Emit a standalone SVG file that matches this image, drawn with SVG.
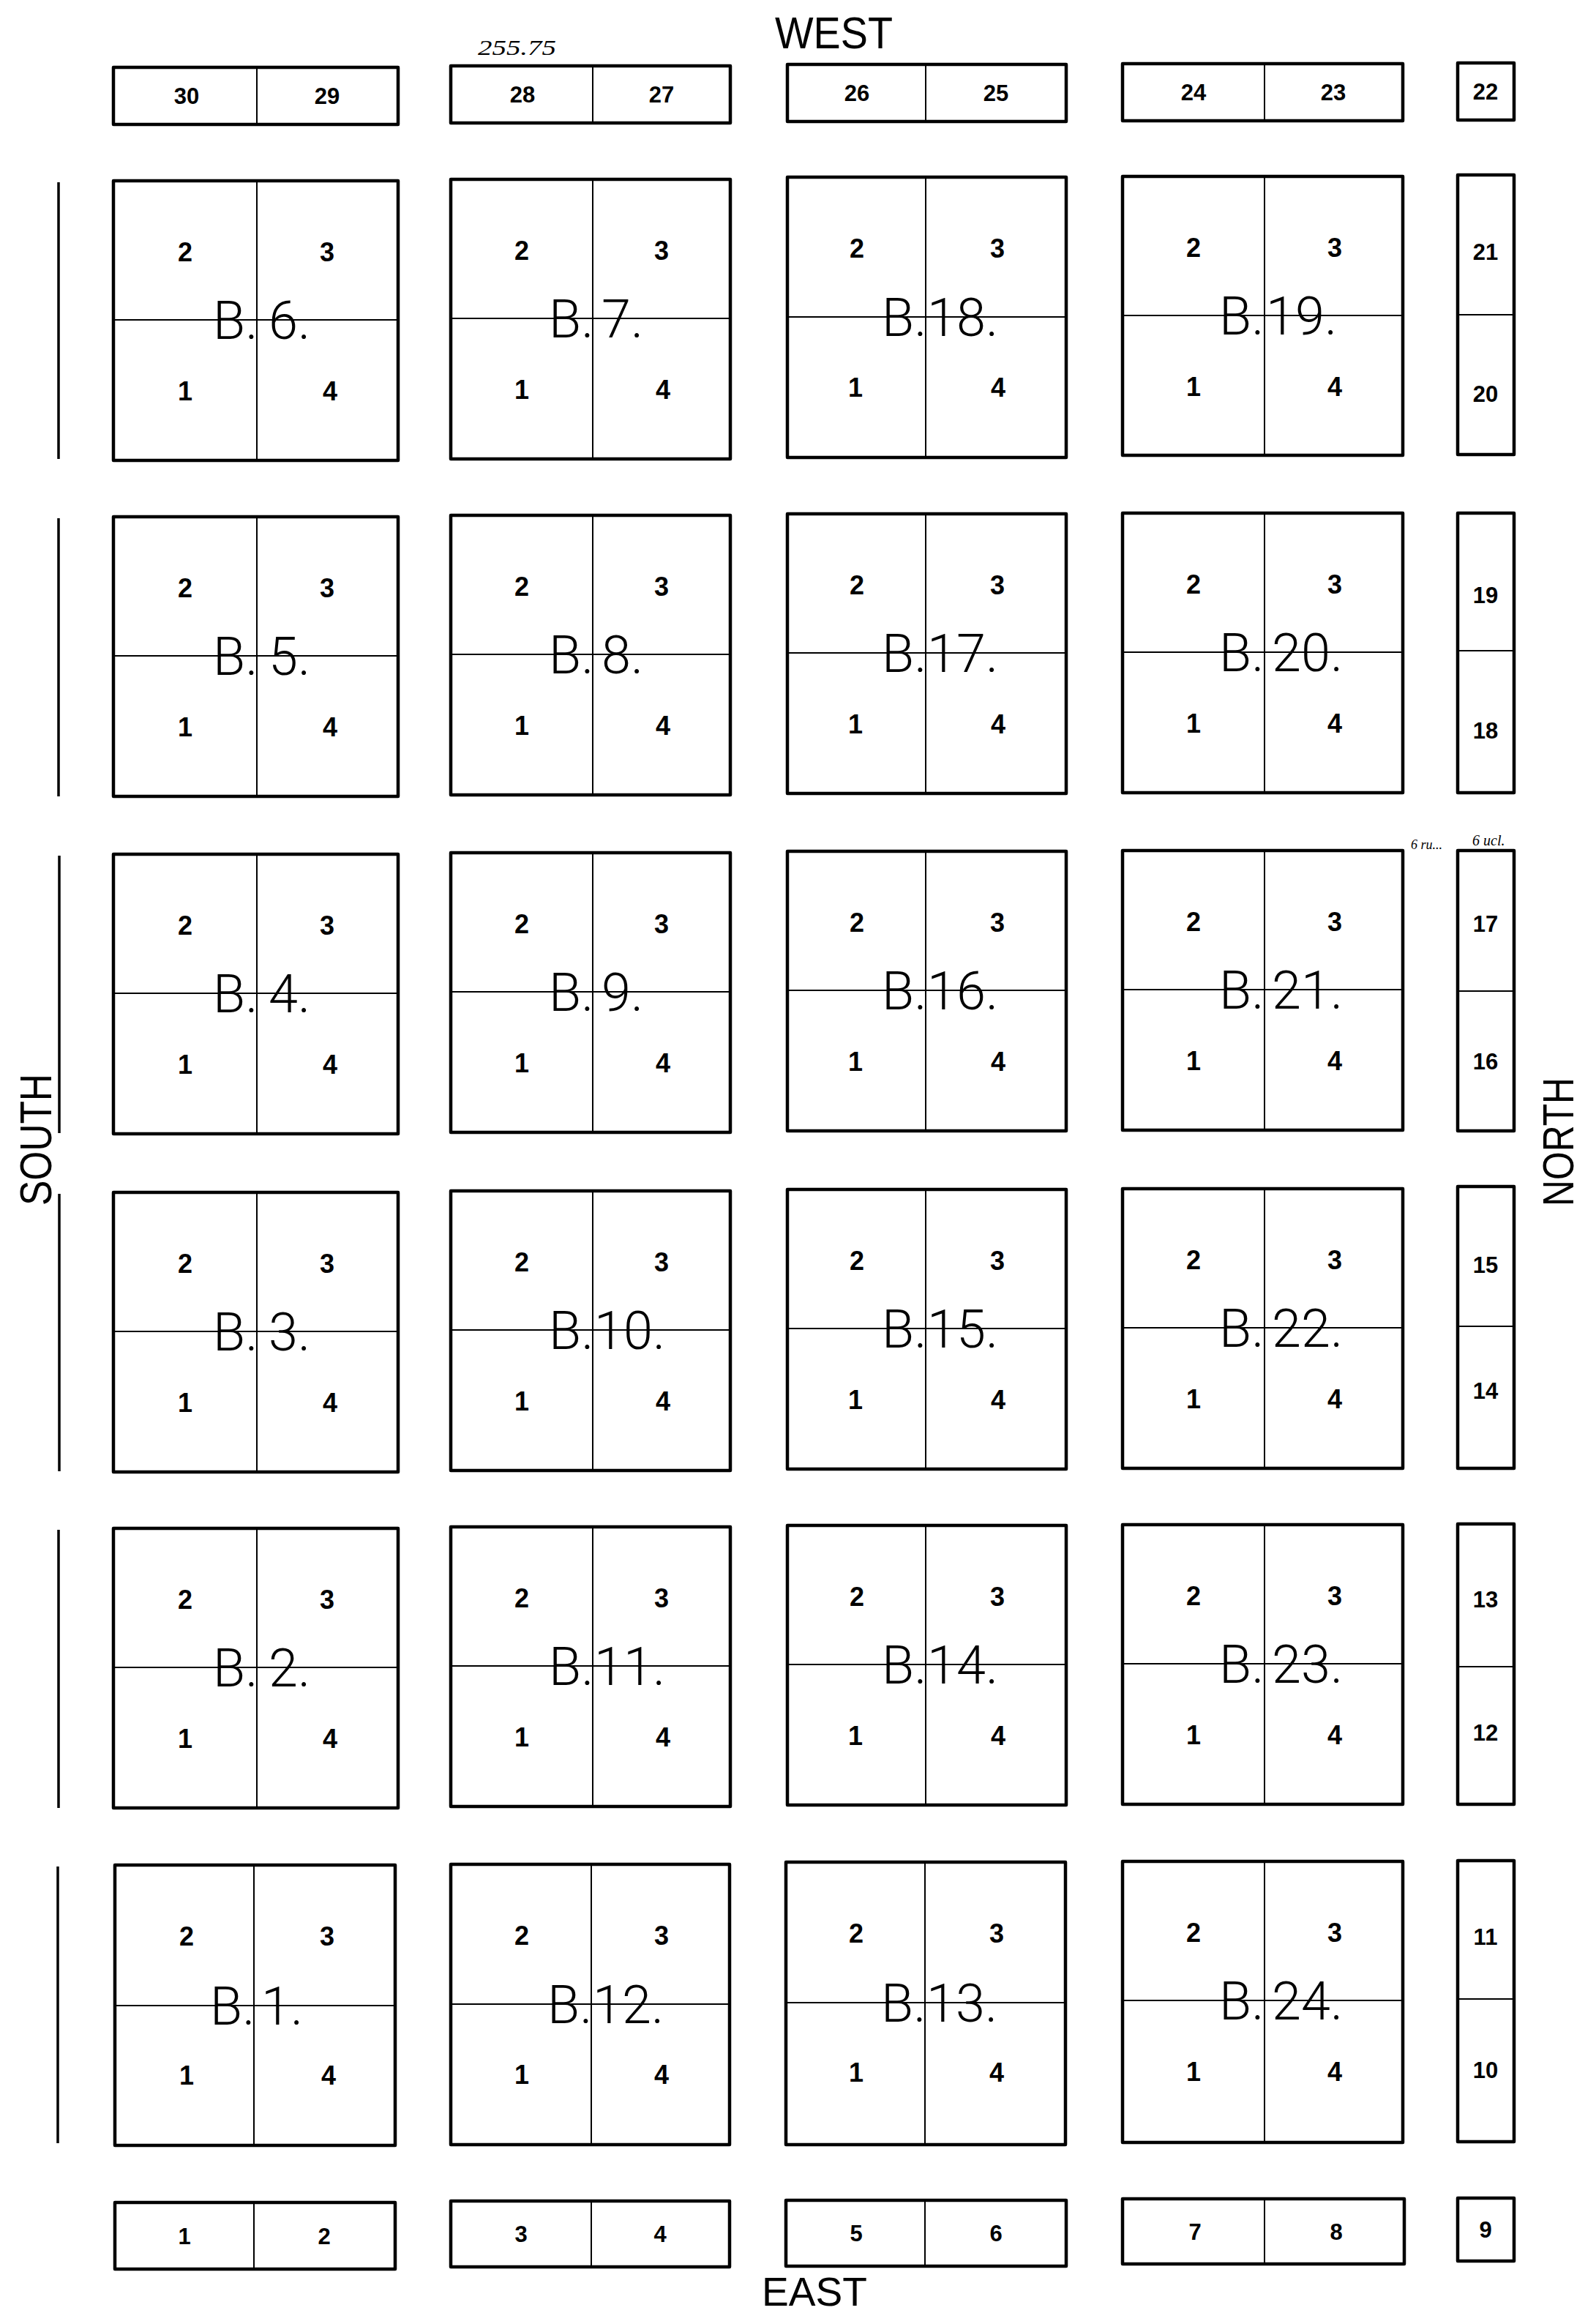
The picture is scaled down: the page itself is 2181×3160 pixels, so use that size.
<svg xmlns="http://www.w3.org/2000/svg" width="2181" height="3160" viewBox="0 0 2181 3160">
<style>
rect.o{fill:none;stroke:#000;stroke-width:4.5;stroke-linejoin:round}
line.in{stroke:#000;stroke-width:2}
line.side{stroke:#000;stroke-width:3.5}
text{font-family:"Liberation Sans",Arial,sans-serif;fill:#000}
.lot{font-size:36px;font-weight:bold;text-anchor:middle}
.sl{font-size:31px;font-weight:bold;text-anchor:middle}
.bl{font-family:Roboto,"Liberation Sans",sans-serif;font-weight:300;font-size:72px}
.dir{font-size:62px}
.hand{font-family:"Liberation Serif",serif;font-style:italic}
</style>
<rect width="2181" height="3160" fill="#fff"/>

<g id="labels">
<text class="dir" x="1041" y="3150" textLength="144" lengthAdjust="spacingAndGlyphs" style="font-size:56px">EAST</text>
<text class="dir" x="1059" y="66" textLength="161" lengthAdjust="spacingAndGlyphs">WEST</text>
<text class="dir" transform="translate(70,1557) rotate(-90)" text-anchor="middle" textLength="180" lengthAdjust="spacingAndGlyphs">SOUTH</text>
<text class="dir" transform="translate(2150,1560) rotate(-90)" text-anchor="middle" textLength="176" lengthAdjust="spacingAndGlyphs" style="font-size:60px">NORTH</text>
<text class="hand" x="653" y="75" font-size="30" textLength="107" lengthAdjust="spacingAndGlyphs">255.75</text>
<text class="hand" x="1928" y="1160" font-size="18">6 ru...</text>
<text class="hand" x="2012" y="1155" font-size="20">6 ucl.</text>
</g>

<g id="side-lines">
<line class="side" x1="80" y1="249" x2="80" y2="627"/>
<line class="side" x1="80" y1="708" x2="80" y2="1088"/>
<line class="side" x1="81" y1="1169" x2="81" y2="1548"/>
<line class="side" x1="81" y1="1631" x2="81" y2="2010"/>
<line class="side" x1="80" y1="2090" x2="80" y2="2470"/>
<line class="side" x1="79" y1="2550" x2="79" y2="2928"/>
</g>

<!-- top strips -->
<g id="strip-top-1" transform="translate(155,92)">
<rect class="o" width="389" height="78"/><line class="in" x1="196" y1="0" x2="196" y2="78"/>
<text class="sl" x="100" y="50">30</text><text class="sl" x="292" y="50">29</text>
</g>
<g id="strip-top-2" transform="translate(616,90)">
<rect class="o" width="382" height="78"/><line class="in" x1="194" y1="0" x2="194" y2="78"/>
<text class="sl" x="98" y="50">28</text><text class="sl" x="288" y="50">27</text>
</g>
<g id="strip-top-3" transform="translate(1076,88)">
<rect class="o" width="381" height="78"/><line class="in" x1="189" y1="0" x2="189" y2="78"/>
<text class="sl" x="95" y="50">26</text><text class="sl" x="285" y="50">25</text>
</g>
<g id="strip-top-4" transform="translate(1534,87)">
<rect class="o" width="383" height="78"/><line class="in" x1="194" y1="0" x2="194" y2="78"/>
<text class="sl" x="97" y="50">24</text><text class="sl" x="288" y="50">23</text>
</g>
<g id="lot-22" transform="translate(1992,86)">
<rect class="o" width="77" height="78"/>
<text class="sl" x="38" y="50">22</text>
</g>

<!-- bottom strips -->
<g id="strip-bot-1" transform="translate(157,3009)">
<rect class="o" width="383" height="91"/><line class="in" x1="190" y1="0" x2="190" y2="91"/>
<text class="sl" x="95" y="57">1</text><text class="sl" x="286" y="57">2</text>
</g>
<g id="strip-bot-2" transform="translate(616,3007)">
<rect class="o" width="381" height="90"/><line class="in" x1="192" y1="0" x2="192" y2="90"/>
<text class="sl" x="96" y="56">3</text><text class="sl" x="286" y="56">4</text>
</g>
<g id="strip-bot-3" transform="translate(1074,3006)">
<rect class="o" width="383" height="90"/><line class="in" x1="190" y1="0" x2="190" y2="90"/>
<text class="sl" x="96" y="56">5</text><text class="sl" x="287" y="56">6</text>
</g>
<g id="strip-bot-4" transform="translate(1534,3004)">
<rect class="o" width="385" height="89"/><line class="in" x1="194" y1="0" x2="194" y2="89"/>
<text class="sl" x="99" y="56">7</text><text class="sl" x="292" y="56">8</text>
</g>
<g id="lot-9" transform="translate(1992,3003)">
<rect class="o" width="77" height="86"/>
<text class="sl" x="38" y="54">9</text>
</g>

<!-- right strips -->
<g id="lots-21-20" transform="translate(1992,239)">
<rect class="o" width="77" height="382"/><line class="in" x1="0" y1="191" x2="77" y2="191"/>
<text class="sl" x="38" y="116">21</text><text class="sl" x="38" y="310">20</text>
</g>
<g id="lots-19-18" transform="translate(1992,701)">
<rect class="o" width="77" height="382"/><line class="in" x1="0" y1="188" x2="77" y2="188"/>
<text class="sl" x="38" y="123">19</text><text class="sl" x="38" y="308">18</text>
</g>
<g id="lots-17-16" transform="translate(1992,1162)">
<rect class="o" width="77" height="383"/><line class="in" x1="0" y1="192" x2="77" y2="192"/>
<text class="sl" x="38" y="111">17</text><text class="sl" x="38" y="299">16</text>
</g>
<g id="lots-15-14" transform="translate(1992,1621)">
<rect class="o" width="77" height="385"/><line class="in" x1="0" y1="191" x2="77" y2="191"/>
<text class="sl" x="38" y="118">15</text><text class="sl" x="38" y="290">14</text>
</g>
<g id="lots-13-12" transform="translate(1992,2082)">
<rect class="o" width="77" height="383"/><line class="in" x1="0" y1="195" x2="77" y2="195"/>
<text class="sl" x="38" y="114">13</text><text class="sl" x="38" y="296">12</text>
</g>
<g id="lots-11-10" transform="translate(1992,2542)">
<rect class="o" width="77" height="384"/><line class="in" x1="0" y1="189" x2="77" y2="189"/>
<text class="sl" x="38" y="115">11</text><text class="sl" x="38" y="297">10</text>
</g>

<!-- column 1 blocks -->
<g id="b6" transform="translate(155,247)">
<rect class="o" width="389" height="382"/><line class="in" x1="196" y1="0" x2="196" y2="382"/><line class="in" x1="0" y1="190" x2="389" y2="190"/>
<text class="lot" x="98" y="110">2</text><text class="lot" x="292" y="110">3</text><text class="lot" x="98" y="300">1</text><text class="lot" x="296" y="300">4</text>
<text class="bl" y="216"><tspan x="136">B.</tspan> <tspan x="212">6.</tspan></text>
</g>
<g id="b5" transform="translate(155,706)">
<rect class="o" width="389" height="382"/><line class="in" x1="196" y1="0" x2="196" y2="382"/><line class="in" x1="0" y1="190" x2="389" y2="190"/>
<text class="lot" x="98" y="110">2</text><text class="lot" x="292" y="110">3</text><text class="lot" x="98" y="300">1</text><text class="lot" x="296" y="300">4</text>
<text class="bl" y="216"><tspan x="136">B.</tspan> <tspan x="212">5.</tspan></text>
</g>
<g id="b4" transform="translate(155,1167)">
<rect class="o" width="389" height="382"/><line class="in" x1="196" y1="0" x2="196" y2="382"/><line class="in" x1="0" y1="190" x2="389" y2="190"/>
<text class="lot" x="98" y="110">2</text><text class="lot" x="292" y="110">3</text><text class="lot" x="98" y="300">1</text><text class="lot" x="296" y="300">4</text>
<text class="bl" y="216"><tspan x="136">B.</tspan> <tspan x="212">4.</tspan></text>
</g>
<g id="b3" transform="translate(155,1629)">
<rect class="o" width="389" height="382"/><line class="in" x1="196" y1="0" x2="196" y2="382"/><line class="in" x1="0" y1="190" x2="389" y2="190"/>
<text class="lot" x="98" y="110">2</text><text class="lot" x="292" y="110">3</text><text class="lot" x="98" y="300">1</text><text class="lot" x="296" y="300">4</text>
<text class="bl" y="216"><tspan x="136">B.</tspan> <tspan x="212">3.</tspan></text>
</g>
<g id="b2" transform="translate(155,2088)">
<rect class="o" width="389" height="382"/><line class="in" x1="196" y1="0" x2="196" y2="382"/><line class="in" x1="0" y1="190" x2="389" y2="190"/>
<text class="lot" x="98" y="110">2</text><text class="lot" x="292" y="110">3</text><text class="lot" x="98" y="300">1</text><text class="lot" x="296" y="300">4</text>
<text class="bl" y="216"><tspan x="136">B.</tspan> <tspan x="212">2.</tspan></text>
</g>
<g id="b1" transform="translate(157,2548)">
<rect class="o" width="383" height="383"/><line class="in" x1="190" y1="0" x2="190" y2="383"/><line class="in" x1="0" y1="192" x2="383" y2="192"/>
<text class="lot" x="98" y="110">2</text><text class="lot" x="290" y="110">3</text><text class="lot" x="98" y="300">1</text><text class="lot" x="292" y="300">4</text>
<text class="bl" y="218"><tspan x="130">B.</tspan> <tspan x="200">1.</tspan></text>
</g>

<!-- column 2 blocks -->
<g id="b7" transform="translate(616,245)">
<rect class="o" width="382" height="382"/><line class="in" x1="194" y1="0" x2="194" y2="382"/><line class="in" x1="0" y1="190" x2="382" y2="190"/>
<text class="lot" x="97" y="110">2</text><text class="lot" x="288" y="110">3</text><text class="lot" x="97" y="300">1</text><text class="lot" x="290" y="300">4</text>
<text class="bl" y="216"><tspan x="134">B.</tspan> <tspan x="206">7.</tspan></text>
</g>
<g id="b8" transform="translate(616,704)">
<rect class="o" width="382" height="382"/><line class="in" x1="194" y1="0" x2="194" y2="382"/><line class="in" x1="0" y1="190" x2="382" y2="190"/>
<text class="lot" x="97" y="110">2</text><text class="lot" x="288" y="110">3</text><text class="lot" x="97" y="300">1</text><text class="lot" x="290" y="300">4</text>
<text class="bl" y="216"><tspan x="134">B.</tspan> <tspan x="206">8.</tspan></text>
</g>
<g id="b9" transform="translate(616,1165)">
<rect class="o" width="382" height="382"/><line class="in" x1="194" y1="0" x2="194" y2="382"/><line class="in" x1="0" y1="190" x2="382" y2="190"/>
<text class="lot" x="97" y="110">2</text><text class="lot" x="288" y="110">3</text><text class="lot" x="97" y="300">1</text><text class="lot" x="290" y="300">4</text>
<text class="bl" y="216"><tspan x="134">B.</tspan> <tspan x="206">9.</tspan></text>
</g>
<g id="b10" transform="translate(616,1627)">
<rect class="o" width="382" height="382"/><line class="in" x1="194" y1="0" x2="194" y2="382"/><line class="in" x1="0" y1="190" x2="382" y2="190"/>
<text class="lot" x="97" y="110">2</text><text class="lot" x="288" y="110">3</text><text class="lot" x="97" y="300">1</text><text class="lot" x="290" y="300">4</text>
<text class="bl" y="216"><tspan x="134">B.</tspan><tspan x="196">10.</tspan></text>
</g>
<g id="b11" transform="translate(616,2086)">
<rect class="o" width="382" height="382"/><line class="in" x1="194" y1="0" x2="194" y2="382"/><line class="in" x1="0" y1="190" x2="382" y2="190"/>
<text class="lot" x="97" y="110">2</text><text class="lot" x="288" y="110">3</text><text class="lot" x="97" y="300">1</text><text class="lot" x="290" y="300">4</text>
<text class="bl" y="216"><tspan x="134">B.</tspan><tspan x="196">11.</tspan></text>
</g>
<g id="b12" transform="translate(616,2547)">
<rect class="o" width="381" height="383"/><line class="in" x1="192" y1="0" x2="192" y2="383"/><line class="in" x1="0" y1="191" x2="381" y2="191"/>
<text class="lot" x="97" y="110">2</text><text class="lot" x="288" y="110">3</text><text class="lot" x="97" y="300">1</text><text class="lot" x="288" y="300">4</text>
<text class="bl" y="217"><tspan x="132">B.</tspan><tspan x="194">12.</tspan></text>
</g>

<!-- column 3 blocks -->
<g id="b18" transform="translate(1076,242)">
<rect class="o" width="381" height="383"/><line class="in" x1="189" y1="0" x2="189" y2="383"/><line class="in" x1="0" y1="191" x2="381" y2="191"/>
<text class="lot" x="95" y="110">2</text><text class="lot" x="287" y="110">3</text><text class="lot" x="93" y="300">1</text><text class="lot" x="288" y="300">4</text>
<text class="bl" y="217"><tspan x="129">B.</tspan><tspan x="191">18.</tspan></text>
</g>
<g id="b17" transform="translate(1076,702)">
<rect class="o" width="381" height="382"/><line class="in" x1="189" y1="0" x2="189" y2="382"/><line class="in" x1="0" y1="190" x2="381" y2="190"/>
<text class="lot" x="95" y="110">2</text><text class="lot" x="287" y="110">3</text><text class="lot" x="93" y="300">1</text><text class="lot" x="288" y="300">4</text>
<text class="bl" y="216"><tspan x="129">B.</tspan><tspan x="191">17.</tspan></text>
</g>
<g id="b16" transform="translate(1076,1163)">
<rect class="o" width="381" height="382"/><line class="in" x1="189" y1="0" x2="189" y2="382"/><line class="in" x1="0" y1="190" x2="381" y2="190"/>
<text class="lot" x="95" y="110">2</text><text class="lot" x="287" y="110">3</text><text class="lot" x="93" y="300">1</text><text class="lot" x="288" y="300">4</text>
<text class="bl" y="216"><tspan x="129">B.</tspan><tspan x="191">16.</tspan></text>
</g>
<g id="b15" transform="translate(1076,1625)">
<rect class="o" width="381" height="382"/><line class="in" x1="189" y1="0" x2="189" y2="382"/><line class="in" x1="0" y1="190" x2="381" y2="190"/>
<text class="lot" x="95" y="110">2</text><text class="lot" x="287" y="110">3</text><text class="lot" x="93" y="300">1</text><text class="lot" x="288" y="300">4</text>
<text class="bl" y="216"><tspan x="129">B.</tspan><tspan x="191">15.</tspan></text>
</g>
<g id="b14" transform="translate(1076,2084)">
<rect class="o" width="381" height="382"/><line class="in" x1="189" y1="0" x2="189" y2="382"/><line class="in" x1="0" y1="190" x2="381" y2="190"/>
<text class="lot" x="95" y="110">2</text><text class="lot" x="287" y="110">3</text><text class="lot" x="93" y="300">1</text><text class="lot" x="288" y="300">4</text>
<text class="bl" y="216"><tspan x="129">B.</tspan><tspan x="191">14.</tspan></text>
</g>
<g id="b13" transform="translate(1074,2544)">
<rect class="o" width="382" height="386"/><line class="in" x1="190" y1="0" x2="190" y2="386"/><line class="in" x1="0" y1="192" x2="382" y2="192"/>
<text class="lot" x="96" y="110">2</text><text class="lot" x="288" y="110">3</text><text class="lot" x="96" y="300">1</text><text class="lot" x="288" y="300">4</text>
<text class="bl" y="218"><tspan x="130">B.</tspan><tspan x="192">13.</tspan></text>
</g>

<!-- column 4 blocks -->
<g id="b19" transform="translate(1534,241)">
<rect class="o" width="383" height="381"/><line class="in" x1="194" y1="0" x2="194" y2="381"/><line class="in" x1="0" y1="190" x2="383" y2="190"/>
<text class="lot" x="97" y="110">2</text><text class="lot" x="290" y="110">3</text><text class="lot" x="97" y="300">1</text><text class="lot" x="290" y="300">4</text>
<text class="bl" y="216"><tspan x="132">B.</tspan><tspan x="196">19.</tspan></text>
</g>
<g id="b20" transform="translate(1534,701)">
<rect class="o" width="383" height="382"/><line class="in" x1="194" y1="0" x2="194" y2="382"/><line class="in" x1="0" y1="190" x2="383" y2="190"/>
<text class="lot" x="97" y="110">2</text><text class="lot" x="290" y="110">3</text><text class="lot" x="97" y="300">1</text><text class="lot" x="290" y="300">4</text>
<text class="bl" y="216"><tspan x="132">B.</tspan> <tspan x="204">20.</tspan></text>
</g>
<g id="b21" transform="translate(1534,1162)">
<rect class="o" width="383" height="382"/><line class="in" x1="194" y1="0" x2="194" y2="382"/><line class="in" x1="0" y1="190" x2="383" y2="190"/>
<text class="lot" x="97" y="110">2</text><text class="lot" x="290" y="110">3</text><text class="lot" x="97" y="300">1</text><text class="lot" x="290" y="300">4</text>
<text class="bl" y="216"><tspan x="132">B.</tspan> <tspan x="204">21.</tspan></text>
</g>
<g id="b22" transform="translate(1534,1624)">
<rect class="o" width="383" height="382"/><line class="in" x1="194" y1="0" x2="194" y2="382"/><line class="in" x1="0" y1="190" x2="383" y2="190"/>
<text class="lot" x="97" y="110">2</text><text class="lot" x="290" y="110">3</text><text class="lot" x="97" y="300">1</text><text class="lot" x="290" y="300">4</text>
<text class="bl" y="216"><tspan x="132">B.</tspan> <tspan x="204">22.</tspan></text>
</g>
<g id="b23" transform="translate(1534,2083)">
<rect class="o" width="383" height="382"/><line class="in" x1="194" y1="0" x2="194" y2="382"/><line class="in" x1="0" y1="190" x2="383" y2="190"/>
<text class="lot" x="97" y="110">2</text><text class="lot" x="290" y="110">3</text><text class="lot" x="97" y="300">1</text><text class="lot" x="290" y="300">4</text>
<text class="bl" y="216"><tspan x="132">B.</tspan> <tspan x="204">23.</tspan></text>
</g>
<g id="b24" transform="translate(1534,2543)">
<rect class="o" width="383" height="384"/><line class="in" x1="194" y1="0" x2="194" y2="384"/><line class="in" x1="0" y1="190" x2="383" y2="190"/>
<text class="lot" x="97" y="110">2</text><text class="lot" x="290" y="110">3</text><text class="lot" x="97" y="300">1</text><text class="lot" x="290" y="300">4</text>
<text class="bl" y="216"><tspan x="132">B.</tspan> <tspan x="204">24.</tspan></text>
</g>
</svg>
